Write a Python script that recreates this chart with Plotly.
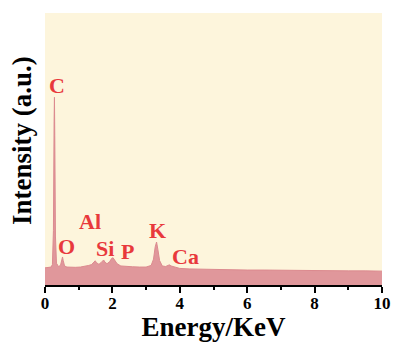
import plotly.graph_objects as go

energy = [0.0, 0.1, 0.18, 0.22, 0.25, 0.27, 0.28, 0.29, 0.31, 0.34, 0.40, 0.46, 0.50, 0.52,
          0.54, 0.58, 0.65, 0.75, 0.9, 1.05, 1.2, 1.3, 1.38, 1.45, 1.49, 1.53, 1.6, 1.66,
          1.71, 1.74, 1.78, 1.84, 1.92, 1.98, 2.02, 2.07, 2.14, 2.25, 2.4, 2.6, 2.8, 3.0,
          3.15, 3.22, 3.27, 3.31, 3.35, 3.40, 3.48, 3.58, 3.65, 3.69, 3.74, 3.85, 4.0, 4.3,
          4.6, 5.0, 5.5, 6.0, 6.5, 7.0, 7.5, 8.0, 8.5, 9.0, 9.5, 10.0]
intensity = [6.3, 6.4, 6.6, 7.5, 20, 60, 69, 55, 18, 8, 6.8, 7.2, 9.5, 10.3,
             9.0, 7.0, 6.6, 6.5, 6.5, 6.6, 6.8, 7.2, 7.5, 8.6, 8.9, 8.2, 7.6, 8.2,
             9.0, 9.2, 8.4, 7.8, 8.6, 9.8, 10.0, 9.2, 7.8, 7.0, 6.8, 6.7, 6.6, 6.6,
             7.2, 9.5, 14.0, 15.8, 13.0, 9.0, 7.0, 6.8, 7.2, 7.4, 7.0, 6.5, 6.1, 5.9,
             5.8, 5.7, 5.6, 5.5, 5.5, 5.4, 5.4, 5.3, 5.3, 5.2, 5.2, 5.1]

elements = ["C", "O", "Al", "Si", "P", "K", "Ca"]
label_x = [0.36, 0.65, 1.34, 1.78, 2.46, 3.35, 4.18]
label_y = [73.2, 14.0, 23.2, 13.6, 12.5, 20.2, 10.3]

fig = go.Figure()
fig.add_trace(go.Scatter(x=energy, y=intensity, mode="lines", fill="tozeroy",
                         line=dict(color="#dc8a8f", width=1), fillcolor="#e0979b",
                         showlegend=False, hoverinfo="skip"))

for t, xx, yy in zip(elements, label_x, label_y):
    fig.add_annotation(x=xx, y=yy, text="<b>" + t + "</b>", showarrow=False,
                       font=dict(family="Liberation Serif", size=22, color="#e8393c"))

fig.add_annotation(xref="paper", yref="paper", x=-0.068, y=0.53, text="<b>Intensity (a.u.)</b>",
                   textangle=-90, showarrow=False, xanchor="center", yanchor="middle",
                   font=dict(family="Liberation Serif", size=27, color="black"))

fig.update_layout(
    width=393, height=342,
    margin=dict(l=45, r=11, t=13, b=57),
    paper_bgcolor="white", plot_bgcolor="#fdf5dc",
    font=dict(family="Liberation Serif", color="black"),
    xaxis=dict(range=[0, 10], tickvals=[0, 2, 4, 6, 8, 10],
               ticktext=["<b>0</b>", "<b>2</b>", "<b>4</b>", "<b>6</b>", "<b>8</b>", "<b>10</b>"],
               ticks="outside", ticklen=6, tickwidth=1.5, tickcolor="black",
               minor=dict(tickvals=[1, 3, 5, 7, 9], ticks="outside", ticklen=3, tickwidth=1.5, tickcolor="black"),
               showline=True, linecolor="black", linewidth=1.5, showgrid=False, zeroline=False,
               tickfont=dict(size=17, family="Liberation Serif"), automargin=False,
               ticklabelstandoff=-4,
               title=dict(text="<b>Energy/KeV</b>", font=dict(size=27, family="Liberation Serif"), standoff=1)),
    yaxis=dict(range=[0, 100], showticklabels=False, ticks="", showline=False,
               showgrid=False, zeroline=False),
)

fig.write_html("out.html", config={"displayModeBar": False},
               post_script="document.body.style.margin='0';document.body.style.overflow='hidden';")
